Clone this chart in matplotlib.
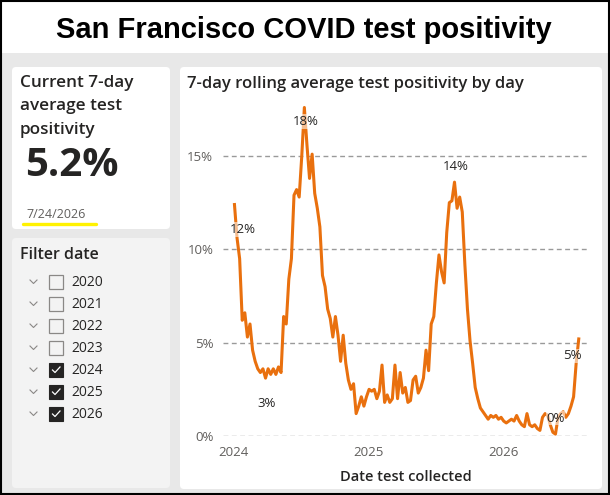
import numpy as np
import pandas as pd
import matplotlib.pyplot as plt
import matplotlib.dates as mdates
from matplotlib.patches import FancyBboxPatch, Rectangle

# 7日滚动平均阳性率 (%), 每周一个点
positivity = [
    12.4, 10.6, 9.5, 6.2, 6.6, 5.3, 6.0, 4.6, 4.0, 3.6,
    3.4, 3.6, 3.1, 3.6, 3.3, 3.6, 3.3, 3.7, 3.4, 6.4,
    6.0, 8.4, 9.5, 12.9, 13.2, 12.8, 15.0, 17.6, 15.6, 13.8,
    15.1, 13.0, 12.2, 11.2, 8.6, 8.0, 6.8, 6.3, 5.3, 6.4,
    5.4, 4.0, 5.4, 3.9, 3.0, 2.5, 2.8, 1.2, 1.6, 2.1,
    1.6, 2.1, 2.5, 2.4, 2.5, 2.0, 2.4, 3.8, 1.8, 2.2,
    1.8, 2.0, 3.8, 2.0, 3.4, 2.3, 2.6, 1.8, 1.9, 3.0,
    3.2, 2.3, 2.6, 3.1, 4.6, 3.5, 6.0, 6.4, 8.2, 9.7,
    8.8, 8.2, 10.9, 12.5, 12.6, 13.6, 12.2, 12.8, 12.0, 9.2,
    6.8, 5.1, 3.9, 2.6, 2.0, 1.5, 1.3, 1.1, 0.9, 1.1,
    1.0, 1.1, 0.9, 1.0, 0.8, 0.7, 0.8, 0.9, 0.8, 1.1,
    0.8, 0.6, 0.5, 1.2, 0.6, 0.5, 0.6, 0.4, 0.3, 1.0,
    1.2, 1.1, 0.6, 0.2, 0.1, 1.0, 1.2, 1.3, 1.0, 1.2,
    1.6, 2.1, 3.9, 5.2,
]
dates = pd.date_range('2024-01-05', periods=len(positivity), freq='7D')
label_idx = [0, 12, 27, 85, 124, 133]
label_off = [(8, -25), (1, -25), (1, -14), (1, 16), (0, 16), (-6, -17)]

years = ['2020', '2021', '2022', '2023', '2024', '2025', '2026']
checked = [False, False, False, False, True, True, True]
current_date = '7/24/2026'

W, H = 610, 495
dark = '#252423'
grey = '#605E5C'
orange = '#E9700E'
plt.rcParams['font.family'] = ['Open Sans', 'DejaVu Sans']

fig = plt.figure(figsize=(W / 100, H / 100), dpi=100)
bg = fig.add_axes([0, 0, 1, 1])
bg.set_xlim(0, W)
bg.set_ylim(H, 0)
bg.axis('off')

# 背景和边框
bg.add_patch(Rectangle((0, 53), W, H - 53, fc='#E8E8E8', ec='none'))
bg.add_patch(Rectangle((0.8, 0.8), W - 1.6, H - 1.6, fc='none', ec='black', lw=1.5))
bg.text(304, 30, 'San Francisco COVID test positivity', ha='center', va='center',
        fontsize=21, fontweight='bold', family='Liberation Sans', color='black')

# 卡片
def card(x, y, w, h, fc):
    bg.add_patch(FancyBboxPatch((x, y), w, h, boxstyle='round,pad=0,rounding_size=4',
                                fc=fc, ec='none'))

card(12, 67, 158, 162, 'white')
card(12, 238, 158, 250, '#F3F3F3')
card(180, 67, 422, 422, 'white')

# KPI
for j, line in enumerate(['Current 7-day', 'average test', 'positivity']):
    bg.text(20, 83 + j * 23.5, line, ha='left', va='center',
            fontsize=12.3, fontweight='semibold', color=dark)
bg.text(25, 166, f'{positivity[-1]:.1f}%', ha='left', va='center',
        fontsize=29, fontweight='bold', color=dark)
bg.text(26, 215, current_date, ha='left', va='center', fontsize=9, color=grey)
bg.plot([23, 96], [224, 224], color='#FFF200', lw=2.4, solid_capstyle='round')

# 筛选器
bg.text(20, 255, 'Filter date', ha='left', va='center', fontsize=11.5,
        fontweight='semibold', color=dark)
for i, (yr, on) in enumerate(zip(years, checked)):
    yc = 282 + i * 22
    bg.plot([30, 33.5, 37], [yc - 2, yc + 1.5, yc - 2], color='#8A8886', lw=0.8)
    if on:
        bg.add_patch(Rectangle((49, yc - 7), 14, 14, fc=dark, ec=dark, lw=0.8))
        bg.plot([52.5, 55, 60], [yc, yc + 2.5, yc - 3], color='white', lw=0.9)
    else:
        bg.add_patch(Rectangle((49, yc - 7), 14, 14, fc='none', ec='#8A8886', lw=0.9))
    bg.text(71, yc, yr, ha='left', va='center', fontsize=10, color=dark)

# 折线图
bg.text(187, 84, '7-day rolling average test positivity by day', ha='left',
        va='center', fontsize=12, fontweight='semibold', color=dark)
ax = fig.add_axes([223 / W, 1 - 436 / H, 365 / W, 336 / H])
ax.patch.set_alpha(0)
ax.plot(dates, positivity, color=orange, lw=2.2, zorder=3)
for k, (dx, dy) in zip(label_idx, label_off):
    v = positivity[k]
    ax.annotate(f'{v:.0f}%', (dates[k], v), xytext=(dx, dy), textcoords='offset pixels',
                ha='center', va='center', fontsize=9.5, color=dark, zorder=4,
                bbox=dict(boxstyle='square,pad=0.05', fc='white', ec='none', alpha=0.55))

ax.set_ylim(0, 18)
ax.set_yticks([0, 5, 10, 15])
ax.yaxis.set_major_formatter(lambda v, p: f'{v:.0f}%')
ax.set_xlim(pd.Timestamp('2023-12-05'), pd.Timestamp('2026-08-18'))
ax.xaxis.set_major_locator(mdates.YearLocator())
ax.xaxis.set_major_formatter(mdates.DateFormatter('%Y'))
ax.grid(axis='y', color='#9A9A9A', lw=1, linestyle=(0, (3.5, 2.5)))
ax.grid(axis='x', visible=False)
for s in ax.spines.values():
    s.set_visible(False)
ax.tick_params(length=0, labelsize=9.5, labelcolor=grey)
ax.tick_params(axis='y', pad=7)
ax.tick_params(axis='x', pad=7)
ax.set_xlabel('Date test collected', fontsize=10.5, fontweight='semibold',
              color=dark, labelpad=8)

plt.savefig('out.png', dpi=100)
